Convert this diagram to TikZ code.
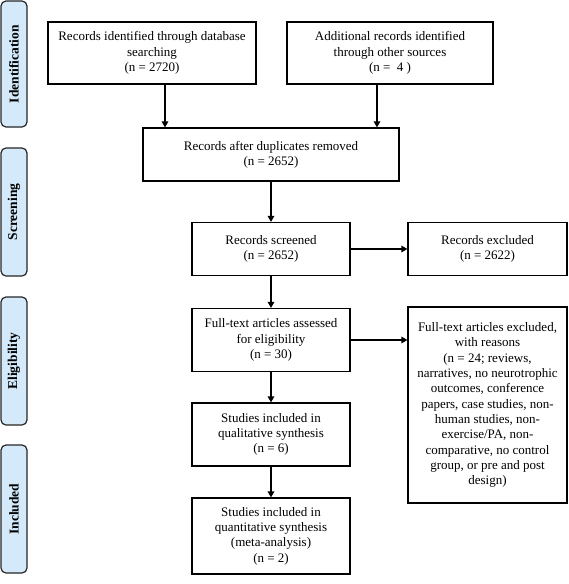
\documentclass[tikz,border=0pt]{standalone}
\usepackage{fontspec}
\setmainfont{Liberation Serif}
\usetikzlibrary{arrows.meta}
\definecolor{phase}{HTML}{D4EAFB}
\tikzset{
  box/.style={draw=black, line width=1.2pt, fill=white, inner sep=0pt, align=center,
    font=\fontsize{13}{15.3}\selectfont},
  phasebox/.style={draw=black!85, line width=1.2pt, fill=phase, rounded corners=5pt, inner sep=0pt},
  phasetext/.style={rotate=90, font=\fontsize{13.5}{15}\selectfont\bfseries},
  arr/.style={line width=2pt, -{Triangle[length=6pt,width=6.5pt]}}
}
\begin{document}
\begin{tikzpicture}[x=1pt,y=-1pt]
\useasboundingbox (0,0) rectangle (568,584);
% phase labels
\node[phasebox, minimum width=26pt, minimum height=126pt] (p1) at (14,64) {};
\node[phasetext] at (p1.center) {Identification};
\node[phasebox, minimum width=26pt, minimum height=128pt] (p2) at (14,212) {};
\node[phasetext] at (p2.center) {Screening};
\node[phasebox, minimum width=26pt, minimum height=128pt] (p3) at (14,361) {};
\node[phasetext] at (p3.center) {Eligibility};
\node[phasebox, minimum width=26pt, minimum height=128pt] (p4) at (14,509) {};
\node[phasetext] at (p4.center) {Included};
% boxes
\node[box, minimum width=208pt, minimum height=62pt] (A) at (152,53)
  {Records identified through database\\searching\\(n = 2720)};
\node[box, minimum width=206pt, minimum height=62pt] (B) at (390,53)
  {Additional records identified\\through other sources\\(n =\ \ 4 )};
\node[box, minimum width=256pt, minimum height=53pt] (C) at (271,154.5)
  {Records after duplicates removed\\(n = 2652)};
\node[box, minimum width=158pt, minimum height=53pt] (D) at (271,249)
  {Records screened\\(n = 2652)};
\node[box, minimum width=159pt, minimum height=53pt] (E) at (487.5,249)
  {Records excluded\\(n = 2622)};
\node[box, minimum width=158pt, minimum height=63pt] (F) at (271,340)
  {Full-text articles assessed\\for eligibility\\(n = 30)};
\node[box, minimum width=159pt, minimum height=196pt] (G) at (487.5,405)
  {Full-text articles excluded,\\with reasons\\(n = 24; reviews,\\narratives, no neurotrophic\\outcomes, conference\\papers, case studies, non-\\human studies, non-\\exercise/PA, non-\\comparative, no control\\group, or pre and post\\design)};
\node[box, minimum width=158pt, minimum height=63pt] (H) at (271,434.5)
  {Studies included in\\qualitative synthesis\\(n = 6)};
\node[box, minimum width=158pt, minimum height=76pt] (I) at (271,536)
  {Studies included in\\quantitative synthesis\\(meta-analysis)\\(n = 2)};
% connectors
\draw[arr] ([xshift=13pt]A.south) -- ([xshift=13pt]A.south |- C.north);
\draw[arr] ([xshift=-13pt]B.south) -- ([xshift=-13pt]B.south |- C.north);
\draw[arr] (C.south -| D.north) -- (D.north);
\draw[arr] (D.east) -- (E.west);
\draw[arr] (D.south) -- (F.north);
\draw[arr] (F.east) -- (F.east -| G.west);
\draw[arr] (F.south) -- (H.north);
\draw[arr] (H.south) -- (I.north);
\end{tikzpicture}
\end{document}
